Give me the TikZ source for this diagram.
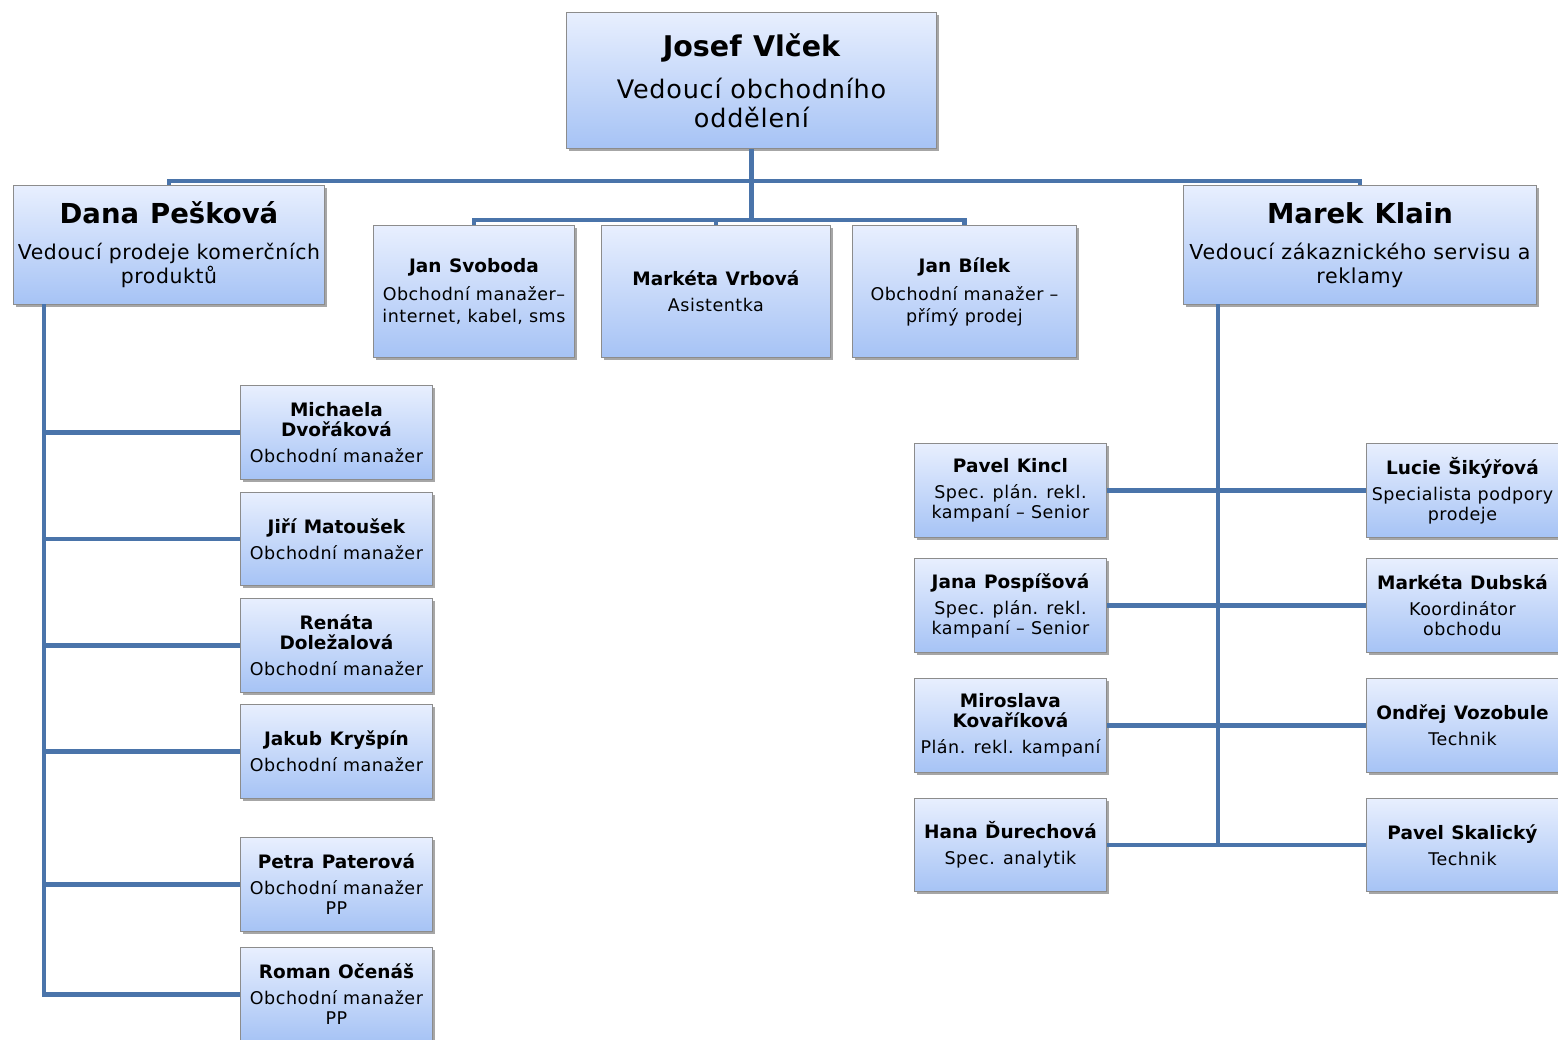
\documentclass[tikz,border=0pt]{standalone}
\usepackage{fontspec}
\setmainfont{DejaVu Sans}[LetterSpace=3,BoldFeatures={LetterSpace=0,WordSpace=1.15}]
\usetikzlibrary{shadows}
\definecolor{lineblue}{HTML}{4A74AA}
\definecolor{boxtop}{HTML}{E8EFFE}
\definecolor{boxbot}{HTML}{A6C3F5}
\definecolor{boxborder}{HTML}{8C8C8C}
\newcommand{\fs}[2]{\fontsize{#1}{#2}\selectfont}
\newcommand{\nm}[1]{{\fs{18.5}{20}\bfseries #1\par}\vspace{6pt}}
\newcommand{\rl}[1]{{\fs{17.5}{20}#1\par}}
\newcommand{\wl}[1]{\makebox[\linewidth][c]{#1}}
\newcommand{\bigname}[1]{{\fs{27.5}{30}\bfseries\addfontfeature{LetterSpace=4}#1\par}}
\tikzset{
  card/.style={draw=boxborder, line width=0.9pt, top color=boxtop, bottom color=boxbot,
    anchor=north west, inner sep=0pt, text width=#1, minimum width=#1, align=flush center,
    drop shadow={shadow xshift=2.5pt, shadow yshift=-3pt, fill=black, opacity=0.35}},
  conn/.style={draw=lineblue, line width=4.5pt},
}
\begin{document}
\begin{tikzpicture}[x=1pt,y=-1pt]
\useasboundingbox (0,0) rectangle (1558,1039);
\fill[white] (0,0) rectangle (1558,1039);

% top level
\node[card=370pt, minimum height=136pt] (josef) at (566,12)
  {{\fs{28.5}{32}\bfseries\addfontfeature{LetterSpace=4}Josef Vlček\par}\vspace{14pt}{\fs{25.5}{28.5}Vedoucí obchodního\\oddělení\par}};
\node[card=311pt, minimum height=119pt] (dana) at (13,185)
  {\bigname{Dana Pešková}\vspace{12pt}{\fs{20.4}{24}\wl{Vedoucí prodeje komerčních}\\produktů\par}};
\node[card=353pt, minimum height=119pt] (marek) at (1183,185)
  {\bigname{Marek Klain}\vspace{12pt}{\fs{20.6}{24}\wl{Vedoucí zákaznického servisu a}\\reklamy\par}};

\node[card=201pt, minimum height=132pt] (svoboda) at (373,225)
  {\nm{Jan Svoboda}{\fs{17.5}{22}Obchodní manažer–\\\wl{internet, kabel, sms}\par}};
\node[card=229pt, minimum height=132pt] (vrbova) at (601,225)
  {\nm{Markéta Vrbová}\rl{Asistentka}};
\node[card=224pt, minimum height=132pt] (bilek) at (852,225)
  {\nm{Jan Bílek}{\fs{17.5}{22}Obchodní manažer –\\přímý prodej\par}};

% left column
\node[card=192pt, minimum height=94pt] (michaela) at (240,385)
  {\nm{Michaela\\Dvořáková}\rl{Obchodní manažer}};
\node[card=192pt, minimum height=93pt] (jiri) at (240,492)
  {\nm{Jiří Matoušek}\rl{Obchodní manažer}};
\node[card=192pt, minimum height=94pt] (renata) at (240,598)
  {\nm{Renáta\\Doležalová}\rl{Obchodní manažer}};
\node[card=192pt, minimum height=94pt] (jakub) at (240,704)
  {\nm{Jakub Kryšpín}\rl{Obchodní manažer}};
\node[card=192pt, minimum height=94pt] (petra) at (240,837)
  {\nm{Petra Paterová}\rl{Obchodní manažer\\PP}};
\node[card=192pt, minimum height=94pt] (roman) at (240,947)
  {\nm{Roman Očenáš}\rl{Obchodní manažer\\PP}};

% right inner column
\node[card=192pt, minimum height=94pt] (kincl) at (914,443)
  {\nm{Pavel Kincl}\rl{Spec. plán. rekl.\\kampaní – Senior}};
\node[card=192pt, minimum height=94pt] (jana) at (914,558)
  {\nm{Jana Pospíšová}\rl{Spec. plán. rekl.\\kampaní – Senior}};
\node[card=192pt, minimum height=94pt] (miroslava) at (914,678)
  {\nm{Miroslava\\Kovaříková}\rl{\wl{Plán. rekl. kampaní}}};
\node[card=192pt, minimum height=93pt] (hana) at (914,798)
  {\nm{Hana Ďurechová}\rl{Spec. analytik}};

% right outer column
\node[card=192pt, minimum height=94pt] (lucie) at (1366,443)
  {\nm{Lucie Šikýřová}\rl{\wl{Specialista podpory}\\prodeje}};
\node[card=192pt, minimum height=94pt] (dubska) at (1366,558)
  {\nm{Markéta Dubská}\rl{Koordinátor\\obchodu}};
\node[card=192pt, minimum height=94pt] (vozobule) at (1366,678)
  {\nm{Ondřej Vozobule}\rl{Technik}};
\node[card=192pt, minimum height=93pt] (skalicky) at (1366,798)
  {\nm{Pavel Skalický}\rl{Technik}};

% connectors
\coordinate (topbar) at (0,181);
\coordinate (lowbar) at (0,220);
\coordinate (lv) at (44,304);
\coordinate (rv) at (1218,304);

\draw[conn] (josef.south) -- (josef.south |- lowbar);
\draw[conn] (dana.north) -- (dana.north |- topbar) -- (marek.north |- topbar) -- (marek.north);
\draw[conn] (svoboda.north) -- (svoboda.north |- lowbar) -- (bilek.north |- lowbar) -- (bilek.north);
\draw[conn] (vrbova.north) -- (vrbova.north |- lowbar);

\draw[conn] (lv) -- (lv |- roman.west) -- (roman.west);
\foreach \n in {michaela,jiri,renata,jakub,petra}
  \draw[conn] (lv |- \n.west) -- (\n.west);

\draw[conn] (rv) -- (rv |- hana.east);
\draw[conn] (kincl.east) -- (lucie.west);
\draw[conn] (jana.east) -- (dubska.west);
\draw[conn] (miroslava.east) -- (vozobule.west);
\draw[conn] (hana.east) -- (skalicky.west);
\end{tikzpicture}
\end{document}
